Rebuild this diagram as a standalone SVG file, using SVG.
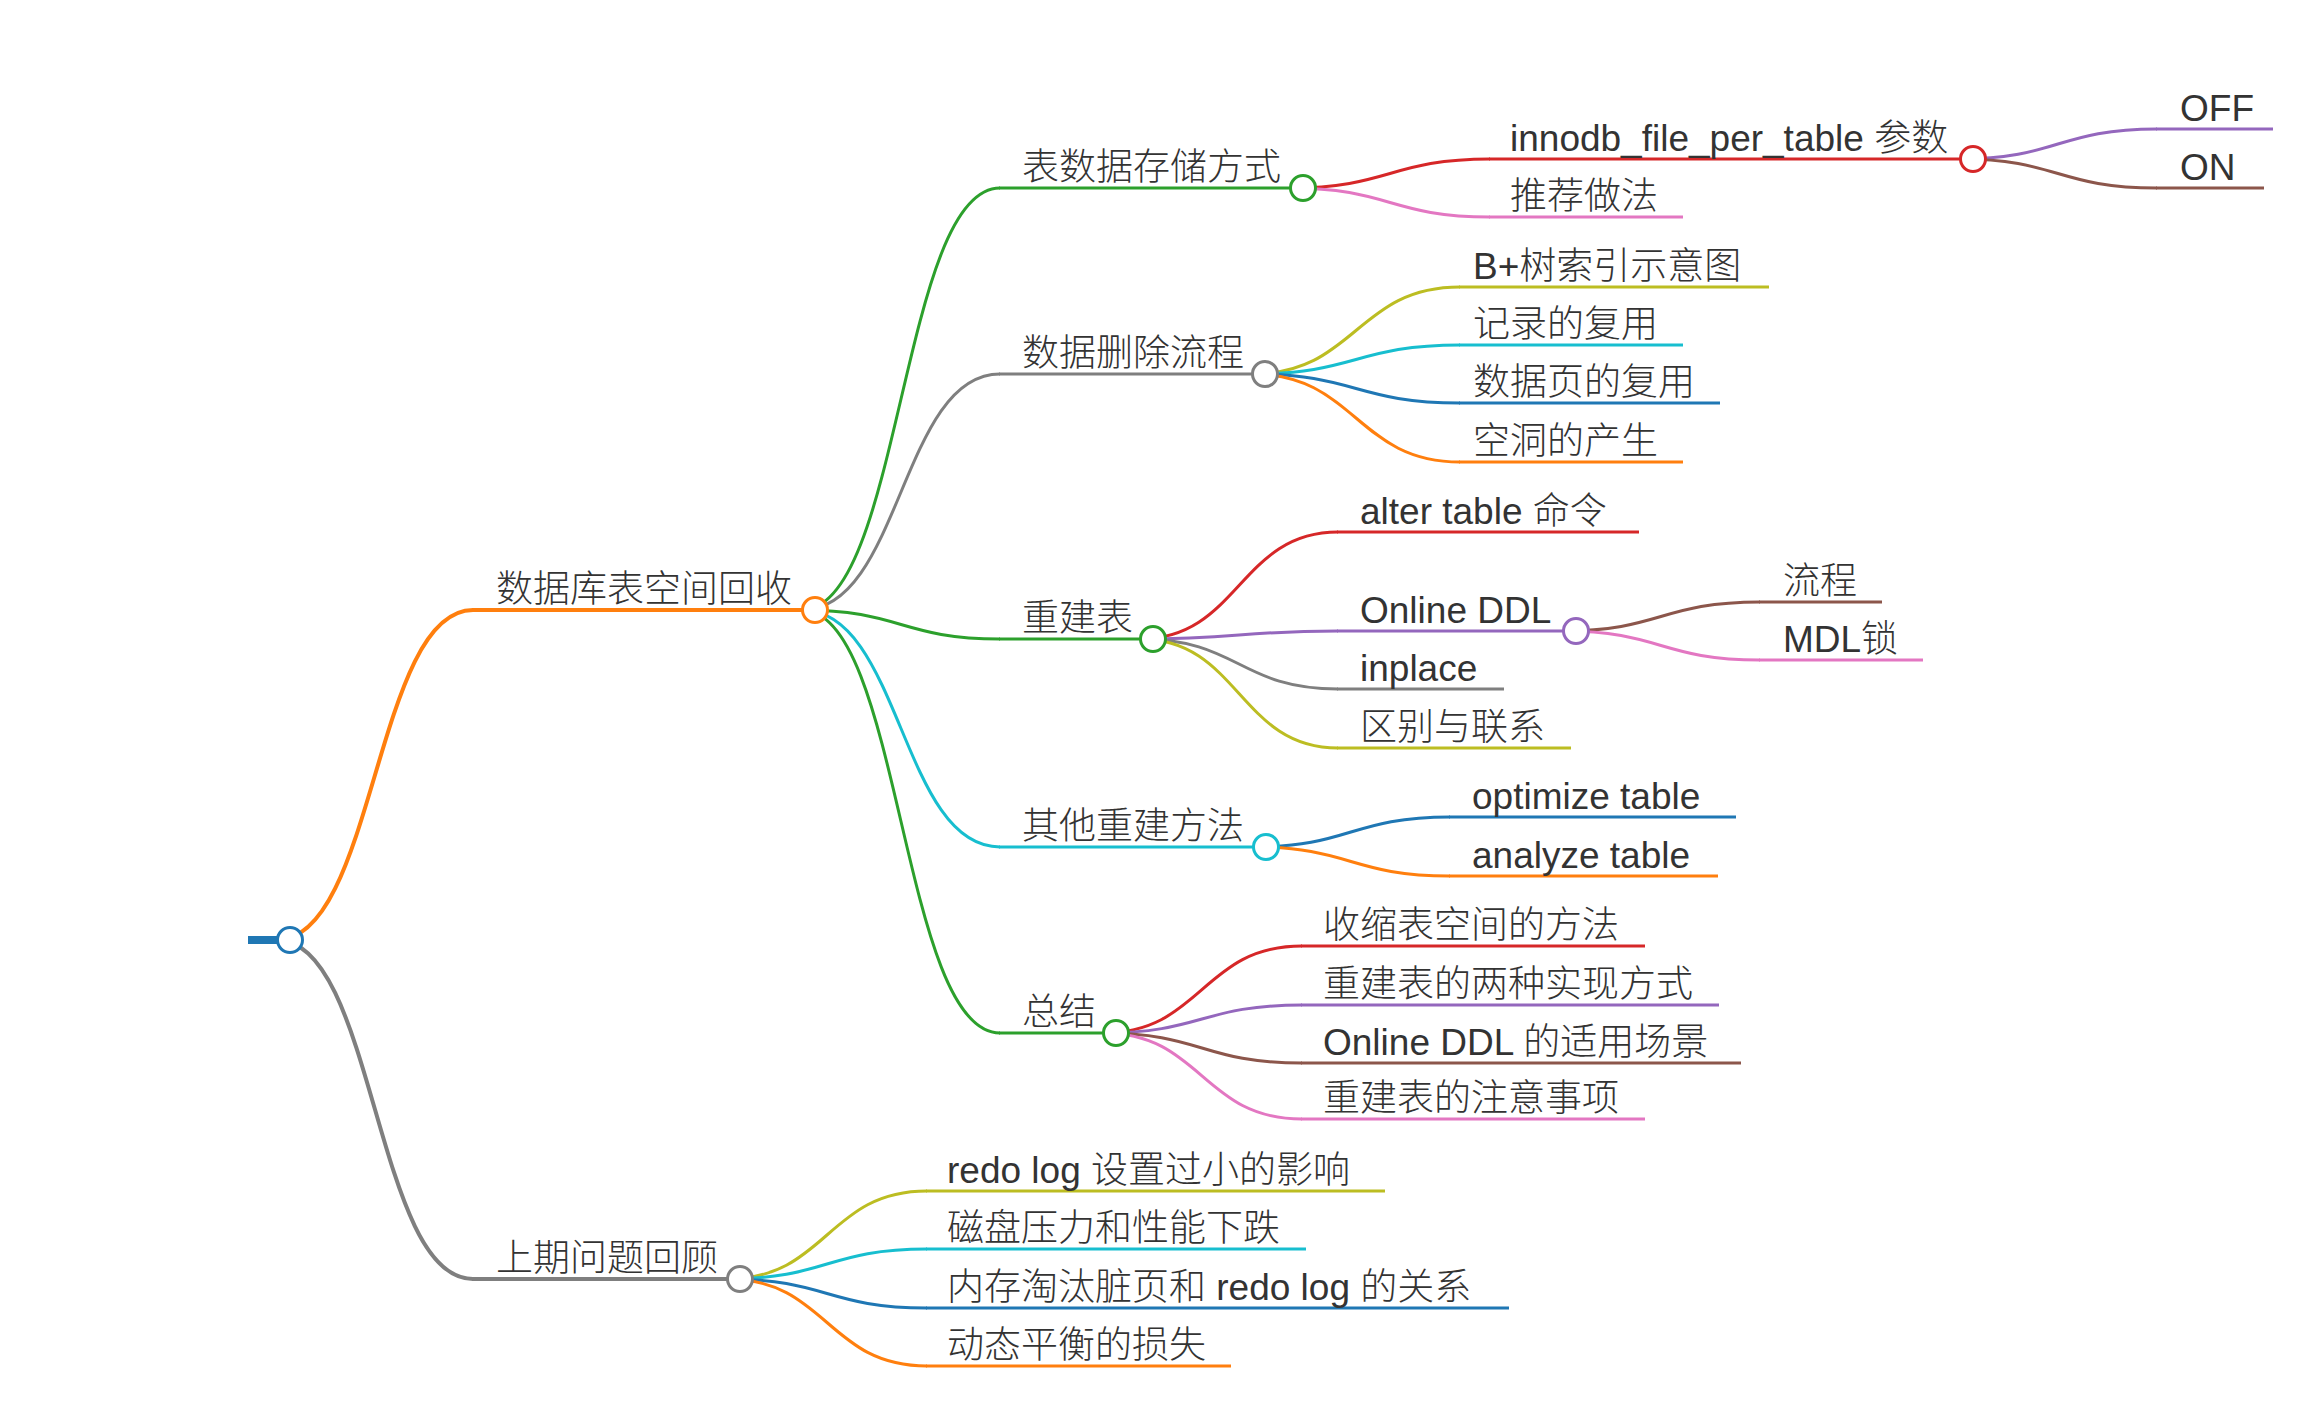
<svg xmlns="http://www.w3.org/2000/svg" width="2310" height="1408" viewBox="0 0 2310 1408">
<style>
text{font-family:"Liberation Sans","Noto Sans CJK SC",sans-serif;font-size:37px;font-weight:300;fill:#333;}
.l{fill:none;stroke-width:3;}
.l1{fill:none;stroke-width:4;}
.c{fill:#fff;stroke-width:3;}
.blue{stroke:#1f77b4}.orange{stroke:#ff7f0e}.green{stroke:#2ca02c}.red{stroke:#d62728}
.purple{stroke:#9467bd}.brown{stroke:#8c564b}.pink{stroke:#e377c2}.gray{stroke:#7f7f7f}
.olive{stroke:#bcbd22}.cyan{stroke:#17becf}
</style>
<rect width="2310" height="1408" fill="#fff"/>
<g id="connectors">
<path class="l1 orange" d="M277,940 C375,940 375,610 473,610"/>
<path class="l1 gray" d="M277,940 C375,940 375,1279 473,1279"/>
<path class="l green" d="M802,610 C901,610 901,188 1000,188"/>
<path class="l gray" d="M802,610 C901,610 901,374 1000,374"/>
<path class="l green" d="M802,610 C901,610 901,639 1000,639"/>
<path class="l cyan" d="M802,610 C901,610 901,847 1000,847"/>
<path class="l green" d="M802,610 C901,610 901,1033 1000,1033"/>
<path class="l red" d="M1290,188 C1390,188 1390,159 1490,159"/>
<path class="l pink" d="M1290,188 C1390,188 1390,217 1490,217"/>
<path class="l purple" d="M1960,159 C2058,159 2058,129 2157,129"/>
<path class="l brown" d="M1960,159 C2058,159 2058,188 2157,188"/>
<path class="l olive" d="M1252,374 C1356,374 1356,287 1460,287"/>
<path class="l cyan" d="M1252,374 C1356,374 1356,345 1460,345"/>
<path class="l blue" d="M1252,374 C1356,374 1356,403 1460,403"/>
<path class="l orange" d="M1252,374 C1356,374 1356,462 1460,462"/>
<path class="l red" d="M1140,639 C1239,639 1239,532 1338,532"/>
<path class="l purple" d="M1140,639 C1239,639 1239,631 1338,631"/>
<path class="l gray" d="M1140,639 C1239,639 1239,689 1338,689"/>
<path class="l olive" d="M1140,639 C1239,639 1239,748 1338,748"/>
<path class="l brown" d="M1563,631 C1661,631 1661,602 1760,602"/>
<path class="l pink" d="M1563,631 C1661,631 1661,660 1760,660"/>
<path class="l blue" d="M1253,847 C1351,847 1351,817 1450,817"/>
<path class="l orange" d="M1253,847 C1351,847 1351,876 1450,876"/>
<path class="l red" d="M1103,1033 C1202,1033 1202,946 1302,946"/>
<path class="l purple" d="M1103,1033 C1202,1033 1202,1005 1302,1005"/>
<path class="l brown" d="M1103,1033 C1202,1033 1202,1063 1302,1063"/>
<path class="l pink" d="M1103,1033 C1202,1033 1202,1119 1302,1119"/>
<path class="l olive" d="M727,1279 C827,1279 827,1191 927,1191"/>
<path class="l cyan" d="M727,1279 C827,1279 827,1249 927,1249"/>
<path class="l blue" d="M727,1279 C827,1279 827,1308 927,1308"/>
<path class="l orange" d="M727,1279 C827,1279 827,1366 927,1366"/>
</g>
<g id="node-root"><line x1="248" y1="940" x2="280" y2="940" stroke="#1f77b4" stroke-width="8"/><circle class="c blue" cx="290" cy="940" r="12.5"/></g>
<g id="node-1"><line class="l1 orange" x1="472" y1="610" x2="805" y2="610"/><text x="496" y="602">数据库表空间回收</text><circle class="c orange" cx="815" cy="610" r="12.5"/></g>
<g id="node-2"><line class="l1 gray" x1="472" y1="1279" x2="730" y2="1279"/><text x="496" y="1271">上期问题回顾</text><circle class="c gray" cx="740" cy="1279" r="12.5"/></g>
<g id="node-1-1"><line class="l green" x1="999" y1="188" x2="1292" y2="188"/><text x="1022" y="180">表数据存储方式</text><circle class="c green" cx="1303" cy="188" r="12.5"/></g>
<g id="node-1-1-1"><line class="l red" x1="1489" y1="159" x2="1962" y2="159"/><text x="1510" y="151">innodb_file_per_table 参数</text><circle class="c red" cx="1973" cy="159" r="12.5"/></g>
<g id="node-1-1-1-1"><line class="l purple" x1="2156" y1="129" x2="2273" y2="129"/><text x="2180" y="121">OFF</text></g>
<g id="node-1-1-1-2"><line class="l brown" x1="2156" y1="188" x2="2264" y2="188"/><text x="2180" y="180">ON</text></g>
<g id="node-1-1-2"><line class="l pink" x1="1489" y1="217" x2="1683" y2="217"/><text x="1510" y="209">推荐做法</text></g>
<g id="node-1-2"><line class="l gray" x1="999" y1="374" x2="1255" y2="374"/><text x="1022" y="366">数据删除流程</text><circle class="c gray" cx="1265" cy="374" r="12.5"/></g>
<g id="node-1-2-1"><line class="l olive" x1="1459" y1="287" x2="1769" y2="287"/><text x="1473" y="279">B+树索引示意图</text></g>
<g id="node-1-2-2"><line class="l cyan" x1="1459" y1="345" x2="1683" y2="345"/><text x="1473" y="337">记录的复用</text></g>
<g id="node-1-2-3"><line class="l blue" x1="1459" y1="403" x2="1720" y2="403"/><text x="1473" y="395">数据页的复用</text></g>
<g id="node-1-2-4"><line class="l orange" x1="1459" y1="462" x2="1683" y2="462"/><text x="1473" y="454">空洞的产生</text></g>
<g id="node-1-3"><line class="l green" x1="999" y1="639" x2="1143" y2="639"/><text x="1022" y="631">重建表</text><circle class="c green" cx="1153" cy="639" r="12.5"/></g>
<g id="node-1-3-1"><line class="l red" x1="1337" y1="532" x2="1639" y2="532"/><text x="1360" y="524">alter table 命令</text></g>
<g id="node-1-3-2"><line class="l purple" x1="1337" y1="631" x2="1566" y2="631"/><text x="1360" y="623">Online DDL</text><circle class="c purple" cx="1576" cy="631" r="12.5"/></g>
<g id="node-1-3-2-1"><line class="l brown" x1="1759" y1="602" x2="1882" y2="602"/><text x="1783" y="594">流程</text></g>
<g id="node-1-3-2-2"><line class="l pink" x1="1759" y1="660" x2="1923" y2="660"/><text x="1783" y="652">MDL锁</text></g>
<g id="node-1-3-3"><line class="l gray" x1="1337" y1="689" x2="1504" y2="689"/><text x="1360" y="681">inplace</text></g>
<g id="node-1-3-4"><line class="l olive" x1="1337" y1="748" x2="1571" y2="748"/><text x="1360" y="740">区别与联系</text></g>
<g id="node-1-4"><line class="l cyan" x1="999" y1="847" x2="1256" y2="847"/><text x="1022" y="839">其他重建方法</text><circle class="c cyan" cx="1266" cy="847" r="12.5"/></g>
<g id="node-1-4-1"><line class="l blue" x1="1449" y1="817" x2="1736" y2="817"/><text x="1472" y="809">optimize table</text></g>
<g id="node-1-4-2"><line class="l orange" x1="1449" y1="876" x2="1718" y2="876"/><text x="1472" y="868">analyze table</text></g>
<g id="node-1-5"><line class="l green" x1="999" y1="1033" x2="1106" y2="1033"/><text x="1022" y="1025">总结</text><circle class="c green" cx="1116" cy="1033" r="12.5"/></g>
<g id="node-1-5-1"><line class="l red" x1="1301" y1="946" x2="1645" y2="946"/><text x="1323" y="938">收缩表空间的方法</text></g>
<g id="node-1-5-2"><line class="l purple" x1="1301" y1="1005" x2="1719" y2="1005"/><text x="1323" y="997">重建表的两种实现方式</text></g>
<g id="node-1-5-3"><line class="l brown" x1="1301" y1="1063" x2="1741" y2="1063"/><text x="1323" y="1055">Online DDL 的适用场景</text></g>
<g id="node-1-5-4"><line class="l pink" x1="1301" y1="1119" x2="1645" y2="1119"/><text x="1323" y="1111">重建表的注意事项</text></g>
<g id="node-2-1"><line class="l olive" x1="926" y1="1191" x2="1385" y2="1191"/><text x="947" y="1183">redo log 设置过小的影响</text></g>
<g id="node-2-2"><line class="l cyan" x1="926" y1="1249" x2="1306" y2="1249"/><text x="947" y="1241">磁盘压力和性能下跌</text></g>
<g id="node-2-3"><line class="l blue" x1="926" y1="1308" x2="1509" y2="1308"/><text x="947" y="1300">内存淘汰脏页和 redo log 的关系</text></g>
<g id="node-2-4"><line class="l orange" x1="926" y1="1366" x2="1231" y2="1366"/><text x="947" y="1358">动态平衡的损失</text></g>
</svg>
